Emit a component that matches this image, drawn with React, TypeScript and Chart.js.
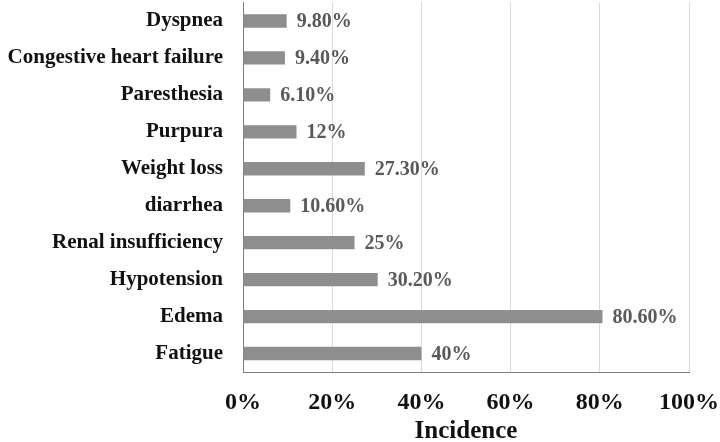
import React, { useEffect, useRef } from "react";
import { Chart, registerables } from "chart.js";

Chart.register(...registerables);

const categories = [
  "Dyspnea",
  "Congestive heart failure",
  "Paresthesia",
  "Purpura",
  "Weight loss",
  "diarrhea",
  "Renal insufficiency",
  "Hypotension",
  "Edema",
  "Fatigue",
];
const incidence = [9.8, 9.4, 6.1, 12, 27.3, 10.6, 25, 30.2, 80.6, 40];
const valueLabels = ["9.80%", "9.40%", "6.10%", "12%", "27.30%", "10.60%", "25%", "30.20%", "80.60%", "40%"];
const xTicks = [0, 20, 40, 60, 80, 100];

const FONT = '"Liberation Serif", "Times New Roman", serif';

const valueLabelPlugin = {
  id: "valueLabels",
  afterDatasetsDraw(chart: any) {
    const ctx = chart.ctx;
    const meta = chart.getDatasetMeta(0);
    ctx.save();
    ctx.font = `bold 20px ${FONT}`;
    ctx.fillStyle = "#595959";
    ctx.textAlign = "left";
    ctx.textBaseline = "middle";
    meta.data.forEach((el: any, i: number) => {
      ctx.fillText(valueLabels[i], el.x + 10, el.y + 1);
    });
    ctx.restore();
  },
};

export default function App() {
  const ref = useRef<HTMLCanvasElement | null>(null);
  useEffect(() => {
    if (!ref.current) return;
    const chart = new Chart(ref.current, {
      type: "bar",
      data: {
        labels: categories,
        datasets: [
          {
            data: incidence,
            backgroundColor: "#8e8e8e",
            barPercentage: 0.36,
            categoryPercentage: 1,
          },
        ],
      },
      options: {
        indexAxis: "y",
        responsive: false,
        animation: false,
        layout: { padding: { top: 2.5, right: 31, bottom: 0, left: 0 } },
        plugins: { legend: { display: false }, tooltip: { enabled: false } },
        scales: {
          x: {
            min: 0,
            max: 100,
            afterBuildTicks(scale: any) {
              scale.ticks = xTicks.map((v) => ({ value: v }));
            },
            afterFit(scale: any) {
              scale.height = 70;
              scale.paddingLeft = 0;
              scale.paddingRight = 0;
              scale.paddingTop = 0;
              scale.paddingBottom = 0;
            },
            grid: { color: "#d9d9d9", lineWidth: 1, drawTicks: false },
            border: { color: "#7f7f7f", width: 1 },
            ticks: {
              padding: 16,
              color: "#111",
              font: { family: FONT, size: 24, weight: "bold" },
              callback: (v: any) => v + "%",
            },
            title: {
              display: true,
              text: "Incidence",
              color: "#111",
              padding: { top: 0, bottom: 0 },
              font: { family: FONT, size: 25, weight: "bold", lineHeight: 0.8 },
            },
          },
          y: {
            afterFit(scale: any) {
              scale.width = 243;
              scale.paddingLeft = 0;
              scale.paddingRight = 0;
              scale.paddingTop = 0;
              scale.paddingBottom = 0;
            },
            grid: { display: false, drawTicks: false },
            border: { color: "#7f7f7f", width: 1 },
            ticks: {
              padding: 20,
              color: "#111",
              font: { family: FONT, size: 21, weight: "bold" },
            },
          },
        },
      },
      plugins: [valueLabelPlugin],
    } as any);
    return () => chart.destroy();
  }, []);
  return (
    <div style={{ position: "absolute", left: 0, top: 0, width: 720, height: 442, background: "#fff" }}>
      <canvas ref={ref} width={720} height={442} />
    </div>
  );
}
